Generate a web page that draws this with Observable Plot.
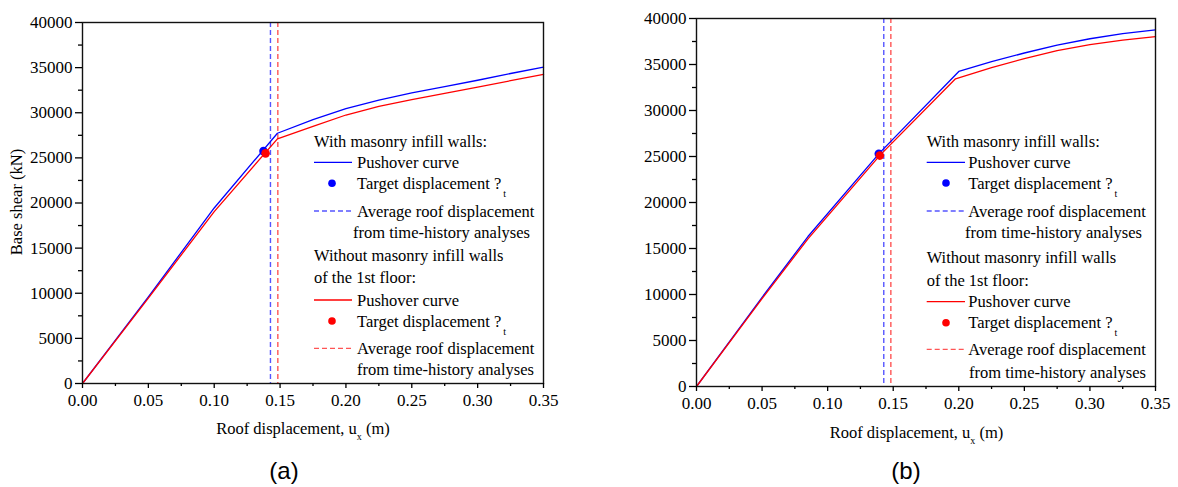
<!DOCTYPE html>
<html><head><meta charset="utf-8">
<script src="https://cdn.jsdelivr.net/npm/d3@7"></script>
<script src="https://cdn.jsdelivr.net/npm/@observablehq/plot@0.6"></script>
<style>
body{margin:0;background:#fff;}
#wrap{display:flex;width:1178px;height:487px;overflow:hidden;}
#wrap svg{display:block;}
#wrap svg, #wrap svg text, #wrap svg tspan{font-family:"Liberation Serif","Times New Roman",serif !important;}
#wrap svg text.letter{font-family:"Liberation Sans",Arial,sans-serif !important;}
</style></head><body><div id="wrap"></div>
<script>
// ---- tick values ----
const xMajor = [0, 0.05, 0.10, 0.15, 0.20, 0.25, 0.30, 0.35];
const xMinor = [0.025, 0.075, 0.125, 0.175, 0.225, 0.275, 0.325];
const yMajor = [0, 5000, 10000, 15000, 20000, 25000, 30000, 35000, 40000];
const yMinor = [2500, 7500, 12500, 17500, 22500, 27500, 32500, 37500];

// ---- panel (a) ----
const dispA_with    = [0, 0.05, 0.10, 0.148, 0.175, 0.20, 0.225, 0.25, 0.275, 0.30, 0.325, 0.35];
const shearA_with   = [0, 9600, 19450, 27730, 29250, 30450, 31400, 32200, 32900, 33600, 34350, 35050];
const dispA_without = [0, 0.05, 0.10, 0.148, 0.175, 0.20, 0.225, 0.25, 0.275, 0.30, 0.325, 0.35];
const shearA_without= [0, 9450, 19050, 27110, 28500, 29750, 30700, 31450, 32150, 32850, 33550, 34240];
const targetA_with    = [0.1374, 25750];
const targetA_without = [0.1390, 25500];
const avgA_with = 0.1427, avgA_without = 0.1483;

// ---- panel (b) ----
const dispB_with    = [0, 0.05, 0.085, 0.14, 0.20, 0.225, 0.25, 0.275, 0.30, 0.325, 0.35];
const shearB_with   = [0, 9700, 16300, 25450, 34240, 35300, 36250, 37100, 37800, 38350, 38770];
const dispB_without = [0, 0.05, 0.085, 0.14, 0.1975, 0.225, 0.25, 0.275, 0.30, 0.325, 0.35];
const shearB_without= [0, 9550, 16050, 25150, 33450, 34650, 35650, 36500, 37150, 37650, 38040];
const targetB_with    = [0.1390, 25300];
const targetB_without = [0.1398, 25100];
const avgB_with = 0.1428, avgB_without = 0.1482;

// ---- text ----
const legendHeader1 = "With masonry infill walls:";
const legendHeader2a = "Without masonry infill walls";
const legendHeader2b = "of the 1st floor:";
const legPush = "Pushover curve";
const legTarget = "Target displacement ?";
const legAvg1 = "Average roof displacement";
const legAvg2 = "from time-history analyses";

const BLUE = "#0000ff", RED = "#ff0000", BLUE_D = "#5555ff", RED_D = "#ff5555";
const FONT = "Liberation Serif, Times New Roman, serif";

const toRows = (xs, ys) => xs.map((x, i) => ({x, y: ys[i]}));

function panel(cfg) {
  const svg = Plot.plot({
    width: cfg.width, height: 487,
    marginLeft: cfg.ml, marginRight: cfg.mr, marginTop: cfg.mt, marginBottom: cfg.mb,
    style: {fontFamily: FONT, fontSize: "17px", color: "#000", background: "#fff"},
    x: {domain: [0, 0.35], label: null},
    y: {domain: [0, 40000], label: null},
    marks: [
      Plot.ruleX([cfg.avgWith], {stroke: BLUE_D, strokeWidth: 1.4, strokeDasharray: "5,3"}),
      Plot.ruleX([cfg.avgWithout], {stroke: RED_D, strokeWidth: 1.4, strokeDasharray: "5,3"}),
      Plot.line(cfg.withRows, {x: "x", y: "y", stroke: BLUE, strokeWidth: 1.3}),
      Plot.line(cfg.withoutRows, {x: "x", y: "y", stroke: RED, strokeWidth: 1.3}),
      Plot.dot([cfg.tWith], {x: d => d[0], y: d => d[1], r: 4.3, fill: BLUE, stroke: "none"}),
      Plot.dot([cfg.tWithout], {x: d => d[0], y: d => d[1], r: 4.3, fill: RED, stroke: "none"}),
      Plot.frame({stroke: "#111", strokeWidth: 1.4}),
      Plot.axisY({ticks: yMajor, tickSize: 7, tickPadding: 3, strokeWidth: 1.3, tickFormat: d => String(d), label: null, fontSize: 17}),
      Plot.axisY({ticks: yMinor, tickSize: 4, strokeWidth: 1.3, tickFormat: () => "", label: null}),
      Plot.axisX({ticks: xMajor, tickSize: 5, tickPadding: 5, strokeWidth: 1.3, tickFormat: d => d.toFixed(2), label: null, fontSize: 17}),
      Plot.axisX({ticks: xMinor, tickSize: 3, strokeWidth: 1.3, tickFormat: () => "", label: null})
    ]
  });
  const s = d3.select(svg);
  // x axis label with subscript
  const xl = s.append("text").attr("x", cfg.xlabX).attr("y", cfg.xlabY).attr("dy", "0.35em")
    .attr("text-anchor", "middle").attr("font-size", 16.5).attr("fill", "#000");
  xl.append("tspan").text("Roof displacement, u");
  xl.append("tspan").attr("font-size", 10).attr("dy", 6).text("x");
  xl.append("tspan").attr("dy", -6).text(" (m)");
  if (cfg.ylab) {
    s.append("text").attr("transform", `translate(16,${cfg.ylabY}) rotate(-90)`).attr("dy", "0.35em")
      .attr("text-anchor", "middle").attr("font-size", 16.5).attr("fill", "#000")
      .text("Base shear (kN)");
  }
  // panel letter
  s.append("text").attr("class", "letter").attr("x", cfg.letterX).attr("y", 471).attr("dy", "0.35em").attr("text-anchor", "middle")
    .attr("font-size", 24).attr("fill", "#000")
    .text(cfg.letter);
  // legend
  const L = cfg.leg, g = s.append("g").attr("font-size", 16.5).attr("fill", "#000").attr("text-anchor", "start");
  const txt = (x, y, t) => g.append("text").attr("x", x).attr("y", y).attr("dy", "0.35em").attr("text-anchor", "start").text(t);
  const tgt = (x, y) => {
    const t = txt(x, y, legTarget);
    t.append("tspan").attr("font-size", 10).attr("dx", 2).attr("dy", 8).text("t");
  };
  const seg = (y, color, dash) => g.append("line").attr("x1", L.x0).attr("x2", L.x1).attr("y1", y).attr("y2", y)
    .attr("stroke", color).attr("stroke-width", 1.3).attr("stroke-dasharray", dash || null);
  const dot = (y, color) => g.append("circle").attr("cx", L.dotX).attr("cy", y).attr("r", 3.8).attr("fill", color);
  const Y = L.ys;
  txt(L.x0, Y[0], legendHeader1);
  seg(Y[1], BLUE); txt(L.tx, Y[1], legPush);
  dot(Y[2], BLUE); tgt(L.tx, Y[2]);
  seg(Y[3], BLUE_D, "5,3"); txt(L.tx, Y[3], legAvg1); txt(L.from1, Y[4], legAvg2);
  txt(L.x0, Y[5], legendHeader2a); txt(L.x0, Y[6], legendHeader2b);
  seg(Y[7], RED); txt(L.tx, Y[7], legPush);
  dot(Y[8], RED); tgt(L.tx, Y[8]);
  seg(Y[9], RED_D, "5,3"); txt(L.tx, Y[9], legAvg1); txt(L.from2, Y[10], legAvg2);
  return svg;
}

const wrap = document.getElementById("wrap");
wrap.appendChild(panel({
  width: 589, ml: 82, mr: 46, mt: 22, mb: 104,
  withRows: toRows(dispA_with, shearA_with), withoutRows: toRows(dispA_without, shearA_without),
  tWith: targetA_with, tWithout: targetA_without, avgWith: avgA_with, avgWithout: avgA_without,
  xlabX: 303, xlabY: 428, ylab: true, ylabY: 202, letter: "(a)", letterX: 284,
  leg: {x0: 314, x1: 352, tx: 357, dotX: 332, from1: 353, from2: 357,
        ys: [141.7, 162.3, 183.3, 211, 232, 255.7, 277.7, 300, 321, 348.3, 369]}
}));
wrap.appendChild(panel({
  width: 589, ml: 107, mr: 23, mt: 18, mb: 101,
  withRows: toRows(dispB_with, shearB_with), withoutRows: toRows(dispB_without, shearB_without),
  tWith: targetB_with, tWithout: targetB_without, avgWith: avgB_with, avgWithout: avgB_without,
  xlabX: 327.5, xlabY: 432.7, ylab: false, letter: "(b)", letterX: 317,
  leg: {x0: 337.7, x1: 376, tx: 379.3, dotX: 357, from1: 376, from2: 380,
        ys: [141.7, 162.3, 183, 211, 232, 257.7, 280, 301.7, 322.7, 349.3, 372.3]}
}));
</script>
</body></html>
